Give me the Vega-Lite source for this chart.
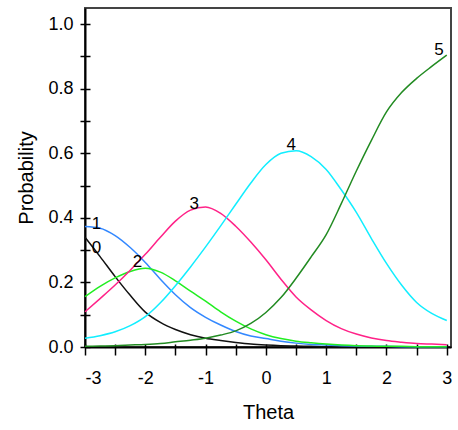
{
  "$schema": "https://vega.github.io/schema/vega-lite/v6.json",
  "autosize": {"type": "none"},
  "padding": {"left": 85, "top": 8, "right": 7, "bottom": 83},
  "width": 366,
  "height": 339,
  "background": "white",
  "config": {
    "font": "Liberation Sans",
    "view": {"stroke": "#444444", "strokeWidth": 2},
    "axis": {"labelColor": "#000000", "titleColor": "#000000", "titleFontWeight": "normal", "domainColor": "#000000", "tickColor": "#000000", "gridColor": "#000000", "gridOpacity": 1, "labelOverlap": false}
  },
  "datasets": {
    "curves": [
      {"theta": -3, "p": 0.340, "k": "0"}, {"theta": -2.75, "p": 0.280, "k": "0"}, {"theta": -2.5, "p": 0.218, "k": "0"}, {"theta": -2.25, "p": 0.160, "k": "0"}, {"theta": -2, "p": 0.108, "k": "0"}, {"theta": -1.75, "p": 0.076, "k": "0"}, {"theta": -1.5, "p": 0.054, "k": "0"}, {"theta": -1.25, "p": 0.038, "k": "0"}, {"theta": -1, "p": 0.027, "k": "0"}, {"theta": -0.75, "p": 0.020, "k": "0"}, {"theta": -0.5, "p": 0.014, "k": "0"}, {"theta": -0.25, "p": 0.009, "k": "0"}, {"theta": 0, "p": 0.006, "k": "0"}, {"theta": 0.25, "p": 0.004, "k": "0"}, {"theta": 0.5, "p": 0.003, "k": "0"}, {"theta": 0.75, "p": 0.002, "k": "0"}, {"theta": 1, "p": 0.001, "k": "0"}, {"theta": 1.25, "p": 0.001, "k": "0"}, {"theta": 1.5, "p": 0.001, "k": "0"}, {"theta": 1.75, "p": 0.0, "k": "0"}, {"theta": 2, "p": 0.0, "k": "0"}, {"theta": 2.25, "p": 0.0, "k": "0"}, {"theta": 2.5, "p": 0.0, "k": "0"}, {"theta": 2.75, "p": 0.0, "k": "0"}, {"theta": 3, "p": 0.0, "k": "0"},
      {"theta": -3, "p": 0.373, "k": "1"}, {"theta": -2.75, "p": 0.368, "k": "1"}, {"theta": -2.5, "p": 0.345, "k": "1"}, {"theta": -2.25, "p": 0.308, "k": "1"}, {"theta": -2, "p": 0.262, "k": "1"}, {"theta": -1.75, "p": 0.210, "k": "1"}, {"theta": -1.5, "p": 0.162, "k": "1"}, {"theta": -1.25, "p": 0.122, "k": "1"}, {"theta": -1, "p": 0.092, "k": "1"}, {"theta": -0.75, "p": 0.068, "k": "1"}, {"theta": -0.5, "p": 0.048, "k": "1"}, {"theta": -0.25, "p": 0.034, "k": "1"}, {"theta": 0, "p": 0.026, "k": "1"}, {"theta": 0.25, "p": 0.018, "k": "1"}, {"theta": 0.5, "p": 0.012, "k": "1"}, {"theta": 0.75, "p": 0.008, "k": "1"}, {"theta": 1, "p": 0.006, "k": "1"}, {"theta": 1.25, "p": 0.004, "k": "1"}, {"theta": 1.5, "p": 0.003, "k": "1"}, {"theta": 1.75, "p": 0.002, "k": "1"}, {"theta": 2, "p": 0.002, "k": "1"}, {"theta": 2.25, "p": 0.001, "k": "1"}, {"theta": 2.5, "p": 0.001, "k": "1"}, {"theta": 2.75, "p": 0.001, "k": "1"}, {"theta": 3, "p": 0.001, "k": "1"},
      {"theta": -3, "p": 0.156, "k": "2"}, {"theta": -2.75, "p": 0.188, "k": "2"}, {"theta": -2.5, "p": 0.214, "k": "2"}, {"theta": -2.25, "p": 0.234, "k": "2"}, {"theta": -2, "p": 0.244, "k": "2"}, {"theta": -1.75, "p": 0.232, "k": "2"}, {"theta": -1.5, "p": 0.205, "k": "2"}, {"theta": -1.25, "p": 0.173, "k": "2"}, {"theta": -1, "p": 0.142, "k": "2"}, {"theta": -0.75, "p": 0.109, "k": "2"}, {"theta": -0.5, "p": 0.080, "k": "2"}, {"theta": -0.25, "p": 0.056, "k": "2"}, {"theta": 0, "p": 0.038, "k": "2"}, {"theta": 0.25, "p": 0.026, "k": "2"}, {"theta": 0.5, "p": 0.018, "k": "2"}, {"theta": 0.75, "p": 0.013, "k": "2"}, {"theta": 1, "p": 0.009, "k": "2"}, {"theta": 1.25, "p": 0.006, "k": "2"}, {"theta": 1.5, "p": 0.004, "k": "2"}, {"theta": 1.75, "p": 0.003, "k": "2"}, {"theta": 2, "p": 0.002, "k": "2"}, {"theta": 2.25, "p": 0.002, "k": "2"}, {"theta": 2.5, "p": 0.001, "k": "2"}, {"theta": 2.75, "p": 0.001, "k": "2"}, {"theta": 3, "p": 0.001, "k": "2"},
      {"theta": -3, "p": 0.109, "k": "3"}, {"theta": -2.75, "p": 0.150, "k": "3"}, {"theta": -2.5, "p": 0.192, "k": "3"}, {"theta": -2.25, "p": 0.238, "k": "3"}, {"theta": -2, "p": 0.287, "k": "3"}, {"theta": -1.75, "p": 0.340, "k": "3"}, {"theta": -1.5, "p": 0.390, "k": "3"}, {"theta": -1.25, "p": 0.424, "k": "3"}, {"theta": -1, "p": 0.434, "k": "3"}, {"theta": -0.75, "p": 0.414, "k": "3"}, {"theta": -0.5, "p": 0.374, "k": "3"}, {"theta": -0.25, "p": 0.325, "k": "3"}, {"theta": 0, "p": 0.270, "k": "3"}, {"theta": 0.25, "p": 0.210, "k": "3"}, {"theta": 0.5, "p": 0.155, "k": "3"}, {"theta": 0.75, "p": 0.115, "k": "3"}, {"theta": 1, "p": 0.082, "k": "3"}, {"theta": 1.25, "p": 0.057, "k": "3"}, {"theta": 1.5, "p": 0.040, "k": "3"}, {"theta": 1.75, "p": 0.028, "k": "3"}, {"theta": 2, "p": 0.020, "k": "3"}, {"theta": 2.25, "p": 0.015, "k": "3"}, {"theta": 2.5, "p": 0.011, "k": "3"}, {"theta": 2.75, "p": 0.009, "k": "3"}, {"theta": 3, "p": 0.007, "k": "3"},
      {"theta": -3, "p": 0.027, "k": "4"}, {"theta": -2.75, "p": 0.035, "k": "4"}, {"theta": -2.5, "p": 0.047, "k": "4"}, {"theta": -2.25, "p": 0.066, "k": "4"}, {"theta": -2, "p": 0.094, "k": "4"}, {"theta": -1.75, "p": 0.137, "k": "4"}, {"theta": -1.5, "p": 0.190, "k": "4"}, {"theta": -1.25, "p": 0.248, "k": "4"}, {"theta": -1, "p": 0.310, "k": "4"}, {"theta": -0.75, "p": 0.375, "k": "4"}, {"theta": -0.5, "p": 0.442, "k": "4"}, {"theta": -0.25, "p": 0.508, "k": "4"}, {"theta": 0, "p": 0.565, "k": "4"}, {"theta": 0.25, "p": 0.600, "k": "4"}, {"theta": 0.5, "p": 0.608, "k": "4"}, {"theta": 0.75, "p": 0.590, "k": "4"}, {"theta": 1, "p": 0.550, "k": "4"}, {"theta": 1.25, "p": 0.487, "k": "4"}, {"theta": 1.5, "p": 0.417, "k": "4"}, {"theta": 1.75, "p": 0.336, "k": "4"}, {"theta": 2, "p": 0.259, "k": "4"}, {"theta": 2.25, "p": 0.192, "k": "4"}, {"theta": 2.5, "p": 0.138, "k": "4"}, {"theta": 2.75, "p": 0.104, "k": "4"}, {"theta": 3, "p": 0.082, "k": "4"},
      {"theta": -3, "p": 0.002, "k": "5"}, {"theta": -2.75, "p": 0.003, "k": "5"}, {"theta": -2.5, "p": 0.004, "k": "5"}, {"theta": -2.25, "p": 0.006, "k": "5"}, {"theta": -2, "p": 0.008, "k": "5"}, {"theta": -1.75, "p": 0.011, "k": "5"}, {"theta": -1.5, "p": 0.016, "k": "5"}, {"theta": -1.25, "p": 0.021, "k": "5"}, {"theta": -1, "p": 0.027, "k": "5"}, {"theta": -0.75, "p": 0.037, "k": "5"}, {"theta": -0.5, "p": 0.050, "k": "5"}, {"theta": -0.25, "p": 0.073, "k": "5"}, {"theta": 0, "p": 0.107, "k": "5"}, {"theta": 0.25, "p": 0.153, "k": "5"}, {"theta": 0.5, "p": 0.213, "k": "5"}, {"theta": 0.75, "p": 0.279, "k": "5"}, {"theta": 1, "p": 0.348, "k": "5"}, {"theta": 1.25, "p": 0.444, "k": "5"}, {"theta": 1.5, "p": 0.545, "k": "5"}, {"theta": 1.75, "p": 0.640, "k": "5"}, {"theta": 2, "p": 0.728, "k": "5"}, {"theta": 2.25, "p": 0.788, "k": "5"}, {"theta": 2.5, "p": 0.832, "k": "5"}, {"theta": 2.75, "p": 0.869, "k": "5"}, {"theta": 3, "p": 0.904, "k": "5"}
    ],
    "labels": [
      {"theta": -2.81, "p": 0.306, "k": "0"},
      {"theta": -2.81, "p": 0.381, "k": "1"},
      {"theta": -2.13, "p": 0.264, "k": "2"},
      {"theta": -1.19, "p": 0.443, "k": "3"},
      {"theta": 0.42, "p": 0.627, "k": "4"},
      {"theta": 2.87, "p": 0.921, "k": "5"}
    ]
  },
  "layer": [
    {
      "data": {"name": "curves"},
      "mark": {"type": "line", "strokeWidth": 1.5, "interpolate": "monotone"},
      "encoding": {
        "x": {
          "field": "theta", "type": "quantitative",
          "scale": {"domain": [-3, 3.07], "nice": false, "zero": false},
          "axis": {
            "title": "Theta", "titleFontSize": 20, "titlePadding": 15,
            "values": [-3, -2.5, -2, -1.5, -1, -0.5, 0, 0.5, 1, 1.5, 2, 2.5, 3],
            "tickCount": 40,
            "labelExpr": "datum.value % 1 == 0 ? '' + datum.value : ' '",
            "labelFontSize": 18, "labelPadding": 14, "tickSize": 8, "tickWidth": 1.5,
            "domainWidth": 2, "grid": true, "gridDash": [0, 336, 3, 1000], "gridWidth": 1.5
          }
        },
        "y": {
          "field": "p", "type": "quantitative",
          "scale": {"domain": [0, 1.05], "nice": false, "zero": true},
          "axis": {
            "title": "Probability", "titleFontSize": 20, "titlePadding": 11,
            "values": [0, 0.1, 0.2, 0.3, 0.4, 0.5, 0.6, 0.7, 0.8, 0.9, 1.0],
            "tickCount": 40,
            "labelExpr": "round(datum.value * 10) % 2 == 0 ? format(datum.value, '.1f') : ' '",
            "labelFontSize": 18, "labelPadding": 7, "tickSize": 5, "tickWidth": 1.5,
            "domainWidth": 2, "grid": true, "gridDash": [5, 1000], "gridWidth": 1.5
          }
        },
        "color": {
          "field": "k", "type": "nominal",
          "scale": {"domain": ["0", "1", "2", "3", "4", "5"], "range": ["#111111", "#3388ff", "#22ee22", "#ff2288", "#11eeff", "#228b22"]},
          "legend": null
        }
      }
    },
    {
      "data": {"name": "labels"},
      "mark": {"type": "text", "fontSize": 17, "color": "#000000", "align": "center", "baseline": "middle"},
      "encoding": {
        "x": {"field": "theta", "type": "quantitative"},
        "y": {"field": "p", "type": "quantitative"},
        "text": {"field": "k", "type": "nominal"}
      }
    }
  ]
}
